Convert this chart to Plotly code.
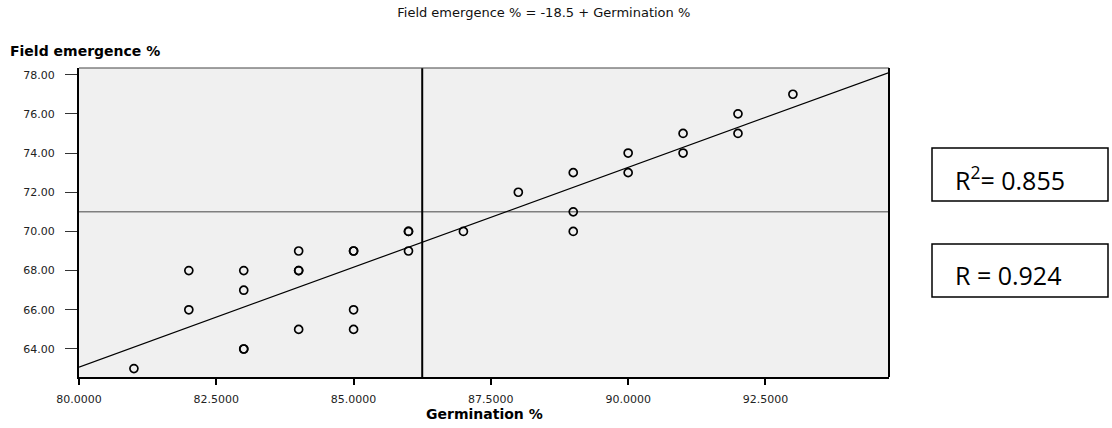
import numpy as np
import plotly.graph_objects as go

# ---- data ----
germination = [81, 82, 82, 83, 83, 83, 83, 84, 84, 84, 84, 85, 85, 85, 85,
               86, 86, 86, 87, 88, 89, 89, 89, 90, 90, 91, 91, 92, 92, 93]
field_emergence = [63, 68, 66, 68, 67, 64, 64, 69, 68, 68, 65, 69, 69, 66, 65,
                   70, 70, 69, 70, 72, 73, 71, 70, 74, 73, 75, 74, 76, 75, 77]

x_ticks = [80.0, 82.5, 85.0, 87.5, 90.0, 92.5]
x_tick_labels = ["80.0000", "82.5000", "85.0000", "87.5000", "90.0000", "92.5000"]
y_ticks = [64, 66, 68, 70, 72, 74, 76, 78]
y_tick_labels = ["64.00", "66.00", "68.00", "70.00", "72.00", "74.00", "76.00", "78.00"]

ref_x = 86.25   # vertical reference line
ref_y = 71.0    # horizontal reference line
r_squared = 0.855
r_value = 0.924

title_text = "Field emergence % = -18.5 + Germination %"
x_title = "Germination %"
y_title = "Field emergence %"

X_RANGE = [80.0, 94.75]
Y_RANGE = [62.57, 78.34]

# regression line fitted from data
slope, intercept = np.polyfit(germination, field_emergence, 1)
line_x = np.array(X_RANGE)
line_y = intercept + slope * line_x

FONT = "DejaVu Sans"

fig = go.Figure()

# reference lines
fig.add_trace(go.Scatter(x=X_RANGE, y=[ref_y, ref_y], mode="lines",
                         line=dict(color="#7f7f7f", width=1.5),
                         hoverinfo="skip", showlegend=False))
fig.add_trace(go.Scatter(x=[ref_x, ref_x], y=Y_RANGE, mode="lines",
                         line=dict(color="black", width=2),
                         hoverinfo="skip", showlegend=False))
# fit line
fig.add_trace(go.Scatter(x=line_x, y=line_y, mode="lines",
                         line=dict(color="black", width=1.2),
                         hoverinfo="skip", showlegend=False))
# points
fig.add_trace(go.Scatter(x=germination, y=field_emergence, mode="markers",
                         marker=dict(symbol="circle-open", size=8,
                                     color="black", line=dict(width=1.7, color="black")),
                         showlegend=False))

fig.update_xaxes(range=X_RANGE, tickmode="array", tickvals=x_ticks, ticktext=x_tick_labels,
                 showgrid=False, zeroline=False,
                 showline=True, linecolor="black", linewidth=2, mirror=False,
                 ticks="outside", ticklen=6, tickwidth=2, tickcolor="black",
                 ticklabelstandoff=5,
                 tickfont=dict(family=FONT, size=11, color="#222222"))
fig.update_yaxes(range=Y_RANGE, tickmode="array", tickvals=y_ticks, ticktext=y_tick_labels,
                 showgrid=False, zeroline=False,
                 showline=True, linecolor="black", linewidth=2, mirror=False,
                 ticks="outside", ticklen=12, tickwidth=1, tickcolor="#333333",
                 ticklabelstandoff=8,
                 tickfont=dict(family=FONT, size=11, color="#222222"))

L, R, T, B = 79, 223, 68, 51
fig.update_layout(
    width=1112, height=428,
    margin=dict(l=L, r=R, t=T, b=B),
    paper_bgcolor="white", plot_bgcolor="#f0f0f0",
    title=dict(text=title_text, x=0.489, xanchor="center", y=0.97, yanchor="middle",
               font=dict(family=FONT, size=13, color="#111111")),
    showlegend=False,
)

pw = 1112 - L - R
ph = 428 - T - B
def px_x(p):
    return (p - L) / pw
def px_y(p):
    return (428 - B - p) / ph

# top (thin grey) and right (black) frame borders
fig.add_shape(type="line", xref="paper", yref="paper", x0=0, x1=1, y0=1, y1=1,
              line=dict(color="#444444", width=1.2))
fig.add_shape(type="line", xref="paper", yref="paper", x0=1, x1=1, y0=0, y1=1,
              line=dict(color="black", width=2))

# axis titles
fig.add_annotation(text=y_title, xref="paper", yref="paper",
                   x=px_x(8), y=px_y(51), xanchor="left", yanchor="middle",
                   showarrow=False, font=dict(family=FONT, size=14, color="black", weight="bold"))
fig.add_annotation(text=x_title, xref="paper", yref="paper",
                   x=px_x(484), y=px_y(414), xanchor="center", yanchor="middle",
                   showarrow=False, font=dict(family=FONT, size=14, color="black", weight="bold"))

# R boxes
for (y0, y1, txt, ty) in [(148, 201, f"R<sup>2</sup>= {r_squared:.3f}", 178),
                          (244, 297, f"R = {r_value:.3f}", 275)]:
    fig.add_shape(type="rect", xref="paper", yref="paper",
                  x0=px_x(932), x1=px_x(1108), y0=px_y(y1), y1=px_y(y0),
                  line=dict(color="black", width=1.5), fillcolor="white")
    fig.add_annotation(text=txt, xref="paper", yref="paper",
                       x=px_x(953), y=px_y(ty), xanchor="left", yanchor="middle",
                       showarrow=False, font=dict(family="Open Sans", size=25, color="black"))

fig.write_html("out.html")
